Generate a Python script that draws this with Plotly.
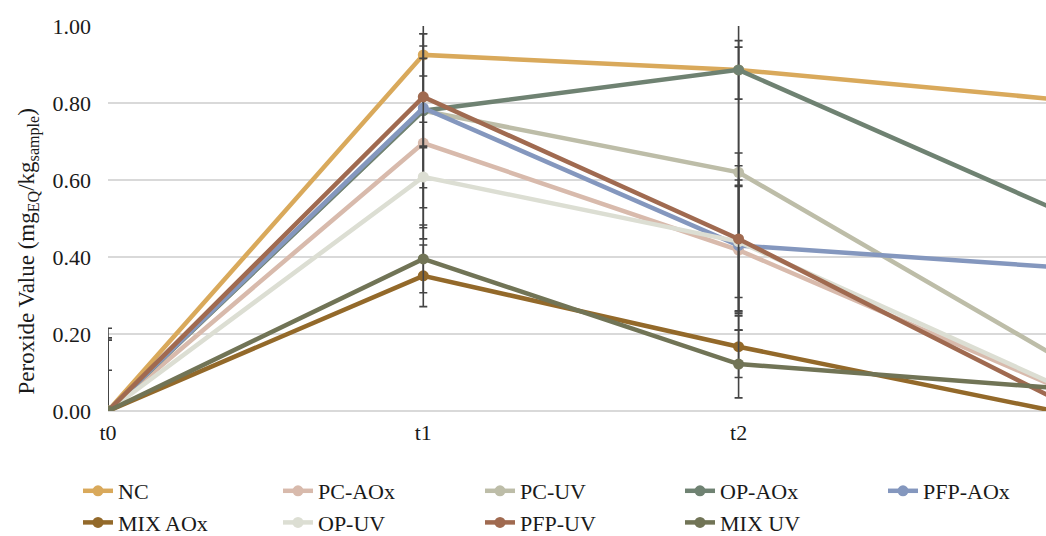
import plotly.graph_objects as go

categories = ["t0", "t1", "t2", "t3"]
series_names = ["NC", "PC-AOx", "PC-UV", "OP-AOx", "PFP-AOx", "MIX AOx", "OP-UV", "PFP-UV", "MIX UV"]

nc = [0.0, 0.925, 0.886, 0.81]
pc_aox = [0.0, 0.696, 0.418, 0.065]
pc_uv = [0.0, 0.78, 0.62, 0.145]
op_aox = [0.0, 0.78, 0.886, 0.525]
pfp_aox = [0.0, 0.787, 0.43, 0.374]
mix_aox = [0.0, 0.351, 0.167, 0.0]
op_uv = [0.0, 0.608, 0.44, 0.07]
pfp_uv = [0.0, 0.816, 0.447, 0.033]
mix_uv = [0.0, 0.395, 0.122, 0.06]

nc_err = [0.19, 0.055, 0.30, 0.0]
pc_aox_err = [0.184, 0.22, 0.165, 0.0]
pc_uv_err = [0.215, 0.03, 0.325, 0.0]
op_aox_err = [0.106, 0.20, 0.076, 0.0]
pfp_aox_err = [0.0, 0.34, 0.17, 0.0]
mix_aox_err = [0.0, 0.08, 0.08, 0.0]
op_uv_err = [0.0, 0.08, 0.23, 0.0]
pfp_uv_err = [0.0, 0.132, 0.19, 0.0]
mix_uv_err = [0.0, 0.088, 0.088, 0.0]

values = [nc, pc_aox, pc_uv, op_aox, pfp_aox, mix_aox, op_uv, pfp_uv, mix_uv]
errors = [nc_err, pc_aox_err, pc_uv_err, op_aox_err, pfp_aox_err, mix_aox_err, op_uv_err, pfp_uv_err, mix_uv_err]
colors = ["#D9A95B", "#D8BAAC", "#BDBDA8", "#6F8272", "#8497BE",
          "#93692A", "#DCDED3", "#A06A50", "#717456"]

# legend column for each series (5 columns, two rows)
legend_ids = ["legend", "legend2", "legend3", "legend4", "legend5",
              "legend", "legend2", "legend3", "legend4"]
legend_col_x = [78, 278, 480, 680, 883]

x_idx = list(range(len(categories)))
font_family = "'Liberation Serif', 'Times New Roman', Times, serif"

fig = go.Figure()
for i, (name, vals, errs, col) in enumerate(zip(series_names, values, errors, colors)):
    fig.add_trace(go.Scatter(
        x=x_idx, y=vals, name=name, mode="lines+markers",
        line=dict(color=col, width=4.5),
        marker=dict(color=col, size=11),
        error_y=dict(type="data", array=errs, visible=True,
                     color="#444444", thickness=1.6, width=4),
        legend=legend_ids[i], legendgroup=name, legendrank=i,
    ))

W, H = 1046, 536
legend_top = 470
legends = {}
for k, px in enumerate(legend_col_x):
    key = "legend" if k == 0 else f"legend{k + 1}"
    legends[key] = dict(
        orientation="v", xref="container", yref="container",
        x=px / W, xanchor="left", y=1 - legend_top / H, yanchor="top",
        font=dict(size=22, family=font_family, color="#1a1a1a"),
        tracegroupgap=4, bgcolor="rgba(0,0,0,0)", borderwidth=0,
        traceorder="normal",
    )

fig.update_layout(
    width=W, height=H,
    margin=dict(l=108, r=0, t=26, b=125, autoexpand=False),
    paper_bgcolor="white", plot_bgcolor="white",
    font=dict(family=font_family, size=22, color="#1a1a1a"),
    showlegend=True,
    xaxis=dict(tickmode="array", tickvals=x_idx, ticktext=categories,
               range=[0, 2.975], showgrid=False, zeroline=False, showline=False,
               ticks="", ticklabelstandoff=6, tickfont=dict(size=22, family=font_family)),
    yaxis=dict(range=[0, 1.0], tickvals=[0, 0.2, 0.4, 0.6, 0.8, 1.0],
               tickformat=".2f", showgrid=True, gridcolor="#D9D9D9", gridwidth=1.5,
               zeroline=True, zerolinecolor="#D9D9D9", zerolinewidth=1.5,
               showline=False, ticks="", ticklabelstandoff=16,
               tickfont=dict(size=22, family=font_family)),
    annotations=[dict(
        text="Peroxide Value (mg<sub>EQ</sub>/kg<sub>sample</sub>)",
        xref="paper", yref="paper", x=-0.085, y=0.415, xanchor="center", yanchor="middle",
        textangle=-90, showarrow=False, font=dict(size=23, family=font_family, color="#1a1a1a"))],
    **legends,
)

fig.write_html("out.html")
